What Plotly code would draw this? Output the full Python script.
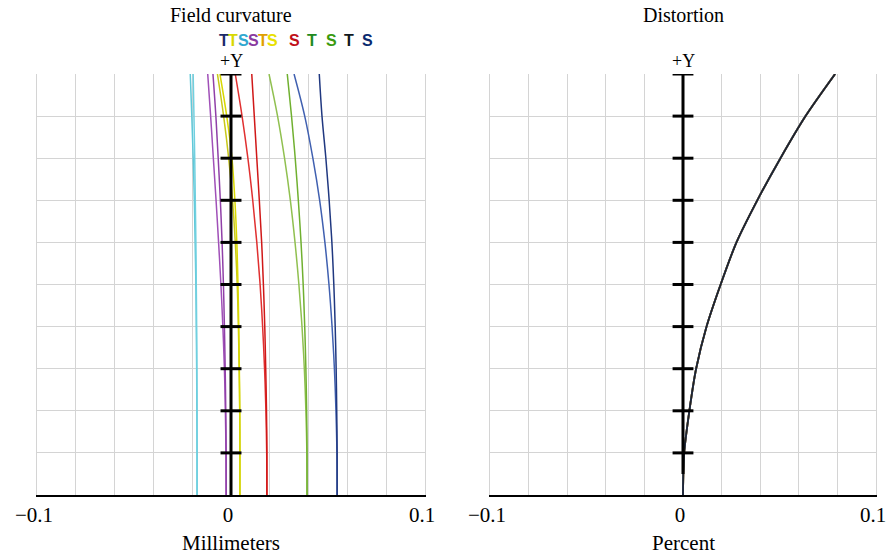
import plotly.graph_objects as go

# ---------------- data ----------------
heights = [0.0, 0.1, 0.2, 0.3, 0.4, 0.5, 0.6, 0.7, 0.8, 0.9, 1.0]

cyan_T = [-0.0175, -0.0175, -0.0176, -0.0177, -0.0179, -0.0181, -0.0185, -0.0189, -0.0195, -0.0202, -0.0210]
cyan_S = [-0.0175, -0.0175, -0.0175, -0.0176, -0.0177, -0.0179, -0.0181, -0.0184, -0.0187, -0.0191, -0.0195]
purple_T = [-0.0025, -0.0026, -0.0029, -0.0034, -0.0042, -0.0052, -0.0064, -0.0077, -0.0091, -0.0105, -0.0120]
purple_S = [-0.0025, -0.0025, -0.0027, -0.0030, -0.0034, -0.0039, -0.0046, -0.0055, -0.0066, -0.0078, -0.0093]
yellow_T = [0.0046, 0.0046, 0.0045, 0.0042, 0.0038, 0.0032, 0.0022, 0.0008, -0.0012, -0.0038, -0.0070]
yellow_S = [0.0046, 0.0046, 0.0045, 0.0043, 0.0040, 0.0036, 0.0030, 0.0020, 0.0005, -0.0022, -0.0057]
red_T = [0.0185, 0.0184, 0.0180, 0.0173, 0.0163, 0.0150, 0.0133, 0.0112, 0.0087, 0.0057, 0.0022]
red_S = [0.0185, 0.0185, 0.0183, 0.0179, 0.0174, 0.0167, 0.0158, 0.0146, 0.0133, 0.0120, 0.0107]
green_T = [0.0392, 0.0391, 0.0386, 0.0378, 0.0366, 0.0350, 0.0330, 0.0306, 0.0276, 0.0240, 0.0196]
green_S = [0.0392, 0.0392, 0.0390, 0.0386, 0.0380, 0.0372, 0.0361, 0.0347, 0.0331, 0.0312, 0.0290]
blue_T = [0.0547, 0.0546, 0.0541, 0.0533, 0.0521, 0.0505, 0.0484, 0.0457, 0.0422, 0.0380, 0.0325]
blue_S = [0.0547, 0.0547, 0.0545, 0.0542, 0.0537, 0.0530, 0.0520, 0.0506, 0.0489, 0.0469, 0.0455]

distortion = [0.0, 0.0006, 0.0033, 0.0068, 0.0122, 0.0195, 0.0277, 0.0385, 0.0505, 0.0635, 0.0788]

axis_tick_heights = [0.1, 0.2, 0.3, 0.4, 0.5, 0.6, 0.7, 0.8, 0.9, 1.0]

x_tickvals = [-0.1, 0.0, 0.1]
x_ticktext = ["\u22120.1", "0", "0.1"]

legend_letters = ["T", "T", "S", "S", "T", "S", "S", "T", "S", "T", "S"]
legend_colors = ["#1a2a6a", "#d8d800", "#30a8d0", "#8a3aa0", "#e0a000",
                 "#e8e000", "#c0101a", "#208a20", "#3a9a10", "#101820", "#0a2a70"]
legend_px = [224, 233, 243, 253, 263, 272, 294, 312, 331, 349, 367]

# ---------------- figure ----------------
W, H = 892, 558
fig = go.Figure()

curves = [
    (cyan_T, "#60c8d8"), (cyan_S, "#70d0e0"),
    (purple_T, "#a050b8"), (purple_S, "#9040a8"),
    (yellow_T, "#c8c818"), (yellow_S, "#d8d800"),
    (red_T, "#e03030"), (red_S, "#d01818"),
    (green_T, "#90c050"), (green_S, "#70b030"),
    (blue_T, "#4060b0"), (blue_S, "#203880"),
]
for xs, col in curves:
    fig.add_trace(go.Scatter(x=xs, y=heights, mode="lines", line=dict(color=col, width=1.5, shape="spline"),
                             xaxis="x", yaxis="y", hoverinfo="skip", showlegend=False))

dist_colors = ["#60c8d8", "#d8d800", "#a050b8", "#e03030", "#70b030", "#203880", "#222222"]
for i, col in enumerate(dist_colors):
    fig.add_trace(go.Scatter(x=distortion, y=heights, mode="lines",
                             line=dict(color=col, width=1.8 if i < len(dist_colors) - 1 else 1.3,
                                       shape="spline", smoothing=0.8),
                             xaxis="x2", yaxis="y2", hoverinfo="skip", showlegend=False))

# +Y axes with ticks
def axis_traces(xa, ya, y0):
    fig.add_trace(go.Scatter(x=[0, 0], y=[y0, 1.0], mode="lines", line=dict(color="black", width=3),
                             xaxis=xa, yaxis=ya, hoverinfo="skip", showlegend=False))
    tx, ty = [], []
    for h in axis_tick_heights:
        tx += [-0.0054, 0.0054, None]
        ty += [h, h, None]
    fig.add_trace(go.Scatter(x=tx, y=ty, mode="lines", line=dict(color="black", width=3),
                             xaxis=xa, yaxis=ya, hoverinfo="skip", showlegend=False))

axis_traces("x", "y", 0.0)
axis_traces("x2", "y2", 0.05)

y_dom = [(H - 495) / H, (H - 74) / H]
grid_col = "#d4d4d4"
xcommon = dict(range=[-0.1, 0.1], tickvals=x_tickvals, ticktext=x_ticktext, showgrid=False, zeroline=False,
               minor=dict(dtick=0.02, tick0=0, showgrid=True, gridcolor=grid_col, gridwidth=1),
               showline=True, linecolor="black", linewidth=2, automargin=False,
               ticks="", ticklabelshift=-3,
               tickfont=dict(family="Liberation Serif", size=21, color="black"), fixedrange=True)
ycommon = dict(range=[0, 1], dtick=0.1, showgrid=True, gridcolor=grid_col, gridwidth=1, zeroline=False,
               showticklabels=False, ticks="", showline=True, linecolor=grid_col, linewidth=1, mirror=True,
               automargin=False, fixedrange=True)

fig.update_layout(
    width=W, height=H, autosize=False,
    margin=dict(l=0, r=0, t=0, b=0),
    paper_bgcolor="white", plot_bgcolor="white",
    showlegend=False,
    xaxis=dict(domain=[37 / W, 425 / W], anchor="y", **xcommon),
    yaxis=dict(domain=y_dom, anchor="x", **ycommon),
    xaxis2=dict(domain=[490 / W, 876 / W], anchor="y2", **xcommon),
    yaxis2=dict(domain=y_dom, anchor="x2", **ycommon),
)

serif = "Liberation Serif"
ann = []
def txt(text, x, y, size, xref="paper", font=serif, color="black", bold=False):
    ann.append(dict(text=("<b>%s</b>" % text) if bold else text, x=x, y=y, xref=xref, yref="paper",
                    xanchor="center", yanchor="middle", showarrow=False,
                    font=dict(family=font, size=size, color=color)))

txt("Field curvature", 231 / W, 1 - 15 / H, 20)
txt("Distortion", 683 / W, 1 - 15 / H, 20)
txt("+Y", 0, 1 - 61 / H, 18, xref="x")
txt("+Y", 0, 1 - 61 / H, 18, xref="x2")
txt("Millimeters", 231 / W, 1 - 543 / H, 21)
txt("Percent", 683 / W, 1 - 543 / H, 21)
for letter, col, px in zip(legend_letters, legend_colors, legend_px):
    txt(letter, px / W, 1 - 41 / H, 16, font="Liberation Sans", color=col, bold=True)

fig.update_layout(annotations=ann)
fig.write_html("out.html")
